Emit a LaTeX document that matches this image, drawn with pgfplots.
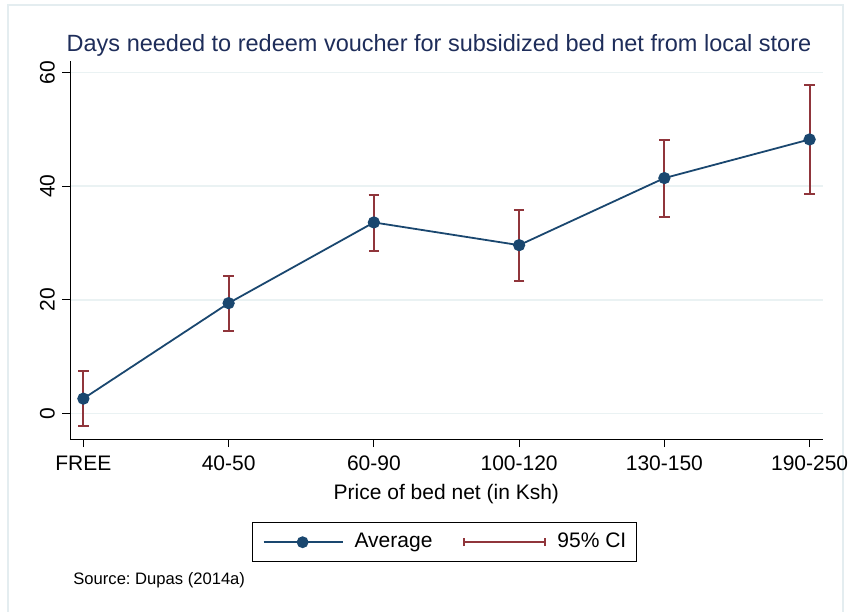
\documentclass[border=0pt]{standalone}
\usepackage{pgfplots}
\pgfplotsset{compat=1.18}
\usepackage{fontspec}
\setmainfont{Liberation Sans}
\frenchspacing
\definecolor{statanavy}{RGB}{26,71,111}
\definecolor{statamaroon}{RGB}{144,53,59}
\definecolor{titlenavy}{RGB}{30,45,90}
\definecolor{gridc}{RGB}{234,242,243}
\definecolor{borderc}{RGB}{228,237,240}
\begin{document}
\begin{tikzpicture}
\draw[borderc, line width=0.6pt] (4pt,-2pt) -- (4pt,303pt) -- (421.5pt,303pt) -- (421.5pt,-2pt);
\begin{axis}[
  at={(35pt,86pt)}, anchor=south west,
  scale only axis, width=376.35pt, height=189pt,
  xmin=-0.092, xmax=5.09, ymin=-4.5, ymax=62,
  axis x line*=bottom, axis y line*=left,
  axis line style={black, line width=0.5pt},
  xtick={0,1,2,3,4,5},
  xticklabels={FREE,40-50,60-90,100-120,130-150,190-250},
  ytick={0,20,40,60},
  /pgf/number format/assume math mode=true,
  yticklabel style={rotate=90, anchor=south, font=\fontsize{10.5}{12}\selectfont},
  xticklabel style={font=\fontsize{10.5}{12}\selectfont, yshift=-1pt},
  tick align=outside, tick style={black, line width=0.4pt},
  major tick length=4pt,
  ymajorgrids, grid style={gridc, line width=0.8pt},
  xlabel={Price of bed net (in Ksh)},
  xlabel style={font=\fontsize{10.5}{12}\selectfont, yshift=0pt},
  legend style={at={(0.4975,-0.2204)}, anchor=north, legend columns=2,
    draw=black, line width=0.4pt, font=\fontsize{10.5}{12}\selectfont,
    nodes={inner sep=0pt, text height=8pt, text depth=2.5pt},
    /tikz/every even column/.append style={column sep=15.5pt},
    inner xsep=5pt, inner ysep=4.5pt},
  legend cell align=left,
  clip=false,
]
\addplot[statanavy, line width=0.9pt, mark=*, mark size=2.6pt,
  mark options={fill=statanavy, draw=statanavy},
  legend image code/.code={
    \path[draw=none, fill=none] (0pt,0pt) -- (45.5pt,0pt);
    \draw[statanavy, line width=1pt] (0pt,0pt) -- (39.5pt,0pt);
    \fill[statanavy] (19.5pt,0pt) circle (2.5pt);}]
  coordinates {(0,2.6) (1,19.4) (2,33.6) (3,29.6) (4,41.4) (5,48.2)};
\addlegendentry{Average}
\addplot[draw=none, mark=none, forget plot,
  error bars/.cd, y dir=both, y explicit,
  error bar style={statamaroon, line width=0.9pt},
  error mark options={rotate=90, statamaroon, mark size=2.6pt, line width=0.9pt}]
  coordinates {
    (0,2.65) +- (0,4.85)
    (1,19.35) +- (0,4.85)
    (2,33.5) +- (0,4.9)
    (3,29.55) +- (0,6.25)
    (4,41.35) +- (0,6.75)
    (5,48.2) +- (0,9.6)
  };
\addlegendimage{legend image code/.code={
    \path[draw=none, fill=none] (0pt,0pt) -- (46.5pt,0pt);
    \draw[statamaroon, line width=1pt] (0pt,0pt) -- (40.5pt,0pt);
    \draw[statamaroon, line width=1pt] (0pt,-1.9pt) -- (0pt,1.9pt);
    \draw[statamaroon, line width=1pt] (40.5pt,-1.9pt) -- (40.5pt,1.9pt);}}
\addlegendentry{95\% CI}
\end{axis}
\node[font=\fontsize{11.75}{14}\selectfont, text=titlenavy] at (219.5pt,283pt) {Days needed to redeem voucher for subsidized bed net from local store};
\node[font=\fontsize{8.3}{10}\selectfont, anchor=west, inner sep=0pt] at (36.5pt,15.5pt) {Source: Dupas (2014a)};
\pgfresetboundingbox
\path[use as bounding box] (0pt,0pt) rectangle (425pt,305.5pt);
\end{tikzpicture}
\end{document}
